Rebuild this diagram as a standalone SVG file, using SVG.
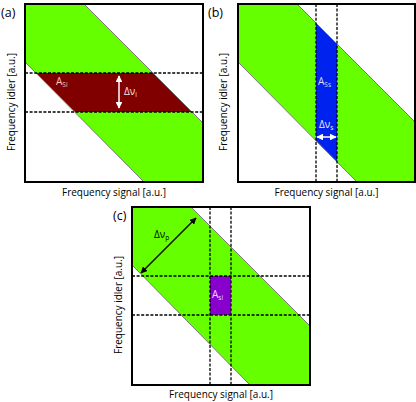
<svg xmlns="http://www.w3.org/2000/svg" width="416" height="402" viewBox="0 0 416 402">
<style>
.band{fill:#66ff00;stroke:none}
.edge{stroke:#7a7a7a;stroke-width:1;fill:none}
.dash{stroke:#000;stroke-width:1.3;stroke-dasharray:3 1.6;fill:none}
.frame{fill:none;stroke:#000;stroke-width:2}
.lbl{font-family:"Open Sans","Noto Sans",sans-serif;font-size:10px;fill:#000}
.tag{font-family:"Open Sans","Noto Sans",sans-serif;font-size:12.5px;fill:#000}
.in{font-family:"Open Sans","Noto Sans",sans-serif;font-size:10px}
.sub{font-size:6.5px}
</style>
<defs>
<marker id="wh" viewBox="0 0 10 10" refX="9" refY="5" markerWidth="4.5" markerHeight="4.5" orient="auto-start-reverse" markerUnits="strokeWidth"><path d="M0,0 L10,5 L0,10 z" fill="#fff"/></marker>
<marker id="bk" viewBox="0 0 10 10" refX="9" refY="5" markerWidth="4.5" markerHeight="4.5" orient="auto-start-reverse" markerUnits="strokeWidth"><path d="M0,0 L10,5 L0,10 z" fill="#000"/></marker>
</defs>
<rect width="416" height="402" fill="#fff"/>

<g id="panel-a">
<polygon class="band" points="25,4 84,4 203,123 203,182 144,182 25,62"/>
<polygon fill="#800000" points="36,73 153,73 192,112 75,112"/>
<line class="edge" x1="84" y1="4" x2="203" y2="123"/>
<line class="edge" x1="25" y1="62" x2="144" y2="182"/>
<line class="dash" x1="25" y1="73" x2="203" y2="73"/>
<line class="dash" x1="25" y1="112" x2="203" y2="112"/>
<rect class="frame" x="25" y="4" width="178" height="178"/>
<text class="in" x="56" y="85" fill="#f2c6c6">A<tspan class="sub" dy="2">Si</tspan></text>
<text class="in" x="124" y="95" fill="#f7e4e4">Δν<tspan class="sub" dy="2">i</tspan></text>
<text class="tag" x="1" y="17">(a)</text>
<text class="lbl" x="114" y="196" text-anchor="middle" textLength="104" lengthAdjust="spacingAndGlyphs">Frequency signal [a.u.]</text>
<text class="lbl" transform="translate(15,102) rotate(-90)" text-anchor="middle" textLength="98" lengthAdjust="spacingAndGlyphs">Frequency idler [a.u.]</text>
</g>

<g id="panel-b">
<polygon class="band" points="238,4 297,4 415,122 415,182 357,182 238,62"/>
<polygon fill="#0022ee" points="316,23 337,44 337,162 316,141"/>
<line class="edge" x1="297" y1="4" x2="415" y2="122"/>
<line class="edge" x1="238" y1="62" x2="357" y2="182"/>
<line class="dash" x1="316" y1="4" x2="316" y2="182"/>
<line class="dash" x1="337" y1="4" x2="337" y2="182"/>
<rect class="frame" x="238" y="4" width="177" height="178"/>
<text class="in" x="318" y="85" fill="#d6dcff">A<tspan class="sub" dy="2">Ss</tspan></text>
<text class="in" x="319" y="128" fill="#eef0ff">Δν<tspan class="sub" dy="2">s</tspan></text>
<text class="tag" x="208" y="17">(b)</text>
<text class="lbl" x="326.5" y="196" text-anchor="middle" textLength="104" lengthAdjust="spacingAndGlyphs">Frequency signal [a.u.]</text>
<text class="lbl" transform="translate(227,102) rotate(-90)" text-anchor="middle" textLength="98" lengthAdjust="spacingAndGlyphs">Frequency idler [a.u.]</text>
</g>

<g id="panel-c">
<polygon class="band" points="132,207 191,207 310,326 310,385 250,385 132,265"/>
<rect fill="#8800cc" x="210" y="276" width="21" height="39"/>
<line class="edge" x1="191" y1="207" x2="310" y2="326"/>
<line class="edge" x1="132" y1="265" x2="250" y2="385"/>
<line class="dash" x1="132" y1="276" x2="310" y2="276"/>
<line class="dash" x1="132" y1="315" x2="310" y2="315"/>
<line class="dash" x1="210" y1="207" x2="210" y2="385"/>
<line class="dash" x1="231" y1="207" x2="231" y2="385"/>
<rect class="frame" x="132" y="207" width="178" height="178"/>
<text class="in" x="212" y="298" fill="#f3d8ff">A<tspan class="sub" dy="2">si</tspan></text>
<text class="in" x="154" y="238" fill="#000">Δν<tspan class="sub" dy="2">p</tspan></text>
<text class="tag" x="113" y="220">(c)</text>
<text class="lbl" x="221" y="398" text-anchor="middle" textLength="104" lengthAdjust="spacingAndGlyphs">Frequency signal [a.u.]</text>
<text class="lbl" transform="translate(122,305) rotate(-90)" text-anchor="middle" textLength="98" lengthAdjust="spacingAndGlyphs">Frequency idler [a.u.]</text>
</g>

<g id="connectors">
<line x1="119" y1="76" x2="119" y2="108" stroke="#fff" stroke-width="1.5" marker-start="url(#wh)" marker-end="url(#wh)"/>
<line x1="317" y1="137" x2="336" y2="137" stroke="#fff" stroke-width="1.5" marker-start="url(#wh)" marker-end="url(#wh)"/>
<line x1="141" y1="273" x2="196" y2="218" stroke="#000" stroke-width="1.5" marker-start="url(#bk)" marker-end="url(#bk)"/>
</g>
</svg>
